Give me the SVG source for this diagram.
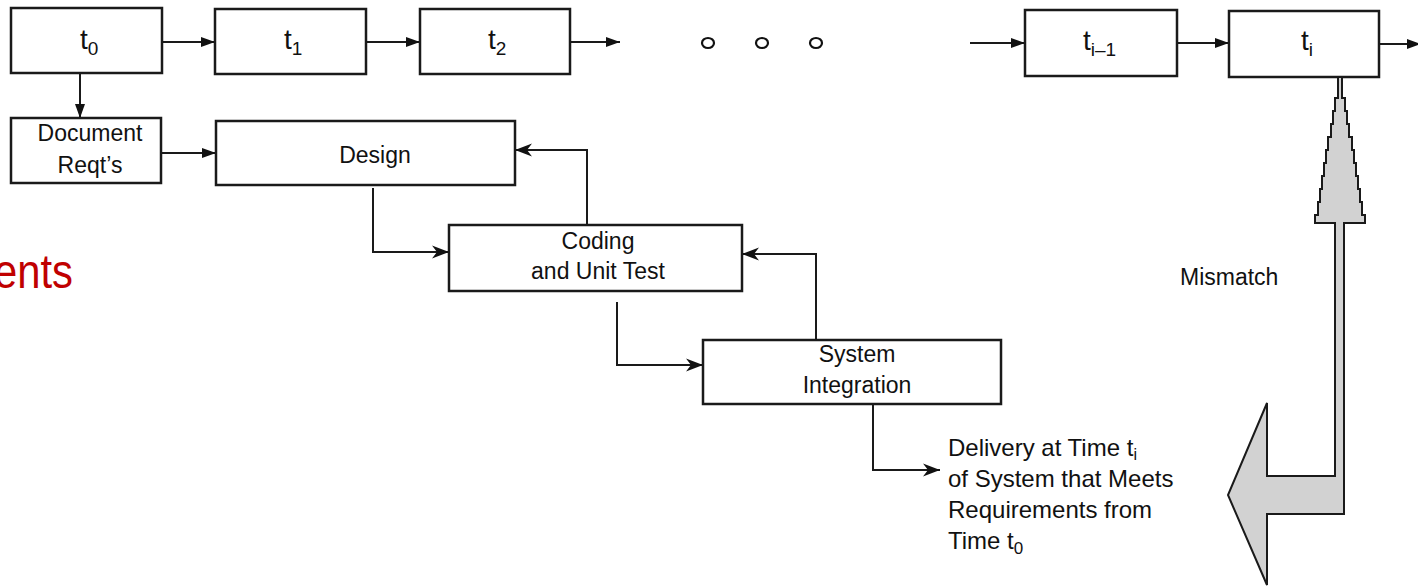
<svg xmlns="http://www.w3.org/2000/svg" width="1418" height="588" viewBox="0 0 1418 588">
  <style>
    .box { fill: #ffffff; stroke: #1a1a1a; stroke-width: 2.5; }
    .lbl { font-family: "Liberation Sans", Arial, sans-serif; font-size: 23px; fill: #111; }
    .dl { font-family: "Liberation Sans", Arial, sans-serif; font-size: 24px; fill: #111; }
    .tl { font-family: "Liberation Sans", Arial, sans-serif; font-size: 28px; fill: #111; }
    .sub { font-size: 19px; }
    .ln { fill: none; stroke: #1a1a1a; stroke-width: 2; }
    .solid { marker-end: url(#tri); }
    .barb { marker-end: url(#barb); }
  </style>
  <defs>
    <marker id="tri" markerUnits="userSpaceOnUse" markerWidth="16" markerHeight="12" refX="14" refY="6" orient="auto">
      <path d="M0,1 L14,6 L0,11 Z" fill="#111"/>
    </marker>
    <marker id="barb" markerUnits="userSpaceOnUse" markerWidth="20" markerHeight="14" refX="18" refY="7" orient="auto">
      <path d="M18,7 L1,0.5 L6,7 L1,13.5 Z" fill="#111"/>
    </marker>
  </defs>

  <rect width="1418" height="588" fill="#ffffff"/>

  <text x="-6" y="288" font-family="'Liberation Sans', Arial, sans-serif" font-size="48" fill="#c00000" textLength="79" lengthAdjust="spacingAndGlyphs">ents</text>

  <g id="connectors">
    <line class="ln solid" x1="162" y1="42" x2="215" y2="42"/>
    <line class="ln solid" x1="366" y1="42" x2="420" y2="42"/>
    <line class="ln solid" x1="570" y1="42" x2="620" y2="42"/>
    <line class="ln solid" x1="970" y1="43" x2="1025" y2="43"/>
    <line class="ln solid" x1="1177" y1="43" x2="1229" y2="43"/>
    <line class="ln solid" x1="1379" y1="44" x2="1421" y2="44"/>
    <line class="ln solid" x1="80" y1="73" x2="80" y2="118"/>
    <line class="ln solid" x1="161" y1="153" x2="216" y2="153"/>
    <polyline class="ln barb" points="373,188 373,252 449,252"/>
    <polyline class="ln barb" points="587,225 587,150 515,150"/>
    <polyline class="ln barb" points="617,302 617,365 703,365"/>
    <polyline class="ln barb" points="816,340 816,254 742,254"/>
    <polyline class="ln barb" points="873,404 873,470 940,470"/>
  </g>

  <g id="dots" fill="none" stroke="#111" stroke-width="2.2">
    <ellipse cx="708" cy="43" rx="6" ry="5"/>
    <ellipse cx="762" cy="43" rx="6" ry="5"/>
    <ellipse cx="816" cy="43" rx="6" ry="5"/>
  </g>

  <g id="t0"><rect class="box" x="11" y="8" width="151" height="65"/><text class="tl" x="80" y="49">t<tspan class="sub" dy="6">0</tspan></text></g>
  <g id="t1"><rect class="box" x="215" y="9" width="151" height="65"/><text class="tl" x="284" y="49">t<tspan class="sub" dy="6">1</tspan></text></g>
  <g id="t2"><rect class="box" x="420" y="9" width="150" height="65"/><text class="tl" x="488" y="49">t<tspan class="sub" dy="6">2</tspan></text></g>
  <g id="tim1"><rect class="box" x="1025" y="10" width="152" height="66"/><text class="tl" x="1083" y="50">t<tspan class="sub" dy="6">i–1</tspan></text></g>
  <g id="ti"><rect class="box" x="1229" y="11" width="150" height="66"/><text class="tl" x="1301" y="50">t<tspan class="sub" dy="6">i</tspan></text></g>

  <g id="doc"><rect class="box" x="11" y="118" width="150" height="65"/>
    <text class="lbl" x="90" y="141" text-anchor="middle">Document</text>
    <text class="lbl" x="90" y="173" text-anchor="middle">Reqt’s</text></g>
  <g id="design"><rect class="box" x="216" y="121" width="299" height="64"/>
    <text class="lbl" x="375" y="163" text-anchor="middle">Design</text></g>
  <g id="coding"><rect class="box" x="449" y="225" width="293" height="66"/>
    <text class="lbl" x="598" y="249" text-anchor="middle">Coding</text>
    <text class="lbl" x="598" y="279" text-anchor="middle">and Unit Test</text></g>
  <g id="system"><rect class="box" x="703" y="340" width="298" height="64"/>
    <text class="lbl" x="857" y="362" text-anchor="middle">System</text>
    <text class="lbl" x="857" y="393" text-anchor="middle">Integration</text></g>

  <g id="delivery">
    <text class="dl" x="948" y="456">Delivery at Time t<tspan font-size="16" dy="4">i</tspan></text>
    <text class="dl" x="948" y="487">of System that Meets</text>
    <text class="dl" x="948" y="518">Requirements from</text>
    <text class="dl" x="948" y="549">Time t<tspan font-size="17" dy="5">0</tspan></text>
  </g>

  <g id="mismatch">
    <polygon fill="#d2d2d2" stroke="#1a1a1a" stroke-width="2" stroke-linejoin="miter"
      points="1338,77 1342,77 1342,98 1345,98 1345,111 1347,111 1347,124 1349,124 1349,137 1352,137 1352,150 1354,150 1354,163 1356,163 1356,176 1358,176 1358,189 1360,189 1360,202 1362,202 1362,215 1365,215 1365,223 1344,223 1344,514 1267,514 1267,585 1228,495 1267,403 1267,476 1335,476 1335,223 1315,223 1315,215 1318,215 1318,202 1320,202 1320,189 1322,189 1322,176 1324,176 1324,163 1326,163 1326,150 1328,150 1328,137 1331,137 1331,124 1333,124 1333,111 1335,111 1335,98 1338,98"/>
    <text class="lbl" x="1180" y="285">Mismatch</text>
  </g>
</svg>
